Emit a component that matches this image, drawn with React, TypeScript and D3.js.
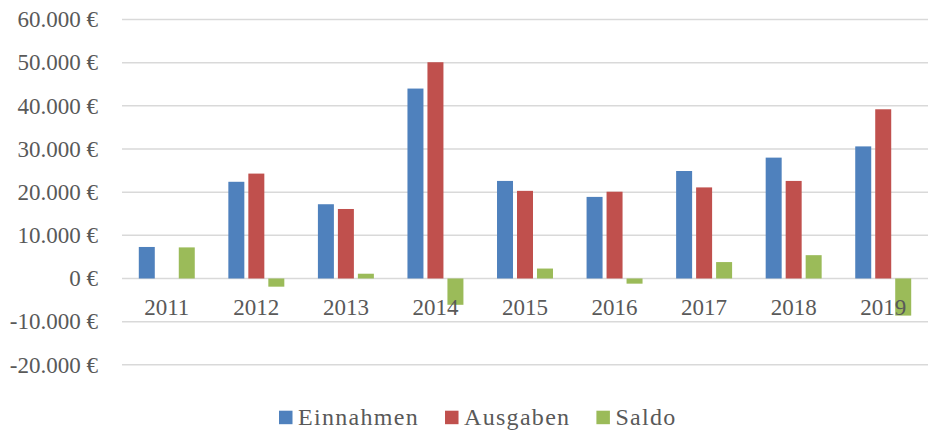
import React, { useEffect, useRef } from 'react';
import * as d3 from 'd3';

const years = ['2011', '2012', '2013', '2014', '2015', '2016', '2017', '2018', '2019'];
const einnahmen = [7300, 22400, 17200, 44000, 22600, 18900, 24900, 28000, 30600];
const ausgaben = [0, 24300, 16100, 50100, 20300, 20100, 21100, 22600, 39200];
const saldo = [7200, -1900, 1100, -6100, 2300, -1200, 3800, 5400, -8600];
const seriesNames = ['Einnahmen', 'Ausgaben', 'Saldo'];
const colors = ['#4F81BD', '#C0504D', '#9BBB59'];
const yTicks = [-20000, -10000, 0, 10000, 20000, 30000, 40000, 50000, 60000];

const FONT = '"Liberation Serif", "Times New Roman", serif';

const App = () => {
  const svgRef = useRef<SVGSVGElement>(null);

  useEffect(() => {
    const width = 928;
    const height = 430;
    const left = 122;
    const right = 928;

    const svg = d3.select(svgRef.current);
    svg.selectAll('*').remove();
    svg.attr('width', width).attr('height', height);

    const de = d3.formatLocale({ decimal: ',', thousands: '.', grouping: [3], currency: ['', ' €'], minus: '-' });
    const fmt = de.format(',.0f');

    const y = d3.scaleLinear().domain([-20000, 60000]).range([364.8, 19.5]);
    const x0 = d3.scaleBand().domain(years).range([left, right]).paddingInner(0.375).paddingOuter(0.1875);
    const x1 = d3.scaleBand().domain(seriesNames).range([0, x0.bandwidth()]).paddingInner(0.2).paddingOuter(0);

    // gridlines
    svg.append('g')
      .selectAll('line')
      .data(yTicks)
      .join('line')
      .attr('x1', left)
      .attr('x2', right)
      .attr('y1', d => y(d))
      .attr('y2', d => y(d))
      .attr('stroke', '#d9d9d9')
      .attr('stroke-width', 1.5);

    // y labels
    svg.append('g')
      .selectAll('text')
      .data(yTicks)
      .join('text')
      .attr('x', 98)
      .attr('y', d => y(d))
      .attr('dy', '0.34em')
      .attr('text-anchor', 'end')
      .attr('font-family', FONT)
      .attr('font-size', 23)
      .attr('fill', '#595959')
      .text(d => `${fmt(d)} €`);

    const table = years.map((yr, i) => ({ year: yr, values: [einnahmen[i], ausgaben[i], saldo[i]] }));

    const groups = svg.append('g')
      .selectAll('g')
      .data(table)
      .join('g')
      .attr('transform', d => `translate(${x0(d.year)},0)`);

    groups.selectAll('rect')
      .data(d => d.values.map((v, k) => ({ key: seriesNames[k], value: v, k })))
      .join('rect')
      .attr('x', d => x1(d.key)!)
      .attr('width', x1.bandwidth())
      .attr('y', d => y(Math.max(0, d.value)))
      .attr('height', d => Math.abs(y(d.value) - y(0)))
      .attr('fill', d => colors[d.k]);

    // category labels
    svg.append('g')
      .selectAll('text')
      .data(years)
      .join('text')
      .attr('x', d => x0(d)! + x0.bandwidth() / 2)
      .attr('y', 315)
      .attr('text-anchor', 'middle')
      .attr('font-family', FONT)
      .attr('font-size', 23)
      .attr('fill', '#595959')
      .text(d => d);

    // legend
    const legend = svg.append('g');
    let lx = 279;
    seriesNames.forEach((name, i) => {
      legend.append('rect')
        .attr('x', lx)
        .attr('y', 410.7)
        .attr('width', 13.5)
        .attr('height', 13.5)
        .attr('fill', colors[i]);
      const t = legend.append('text')
        .attr('x', lx + 19)
        .attr('y', 425)
        .attr('font-family', FONT)
        .attr('font-size', 24)
        .attr('letter-spacing', 1.3)
        .attr('fill', '#595959')
        .text(name);
      const w = (t.node() as SVGTextElement).getComputedTextLength();
      lx += 19 + w + 26;
    });
  }, []);

  return (
    <div style={{ position: 'absolute', left: 0, top: 0 }}>
      <svg ref={svgRef} style={{ display: 'block' }}></svg>
    </div>
  );
};

export default App;
